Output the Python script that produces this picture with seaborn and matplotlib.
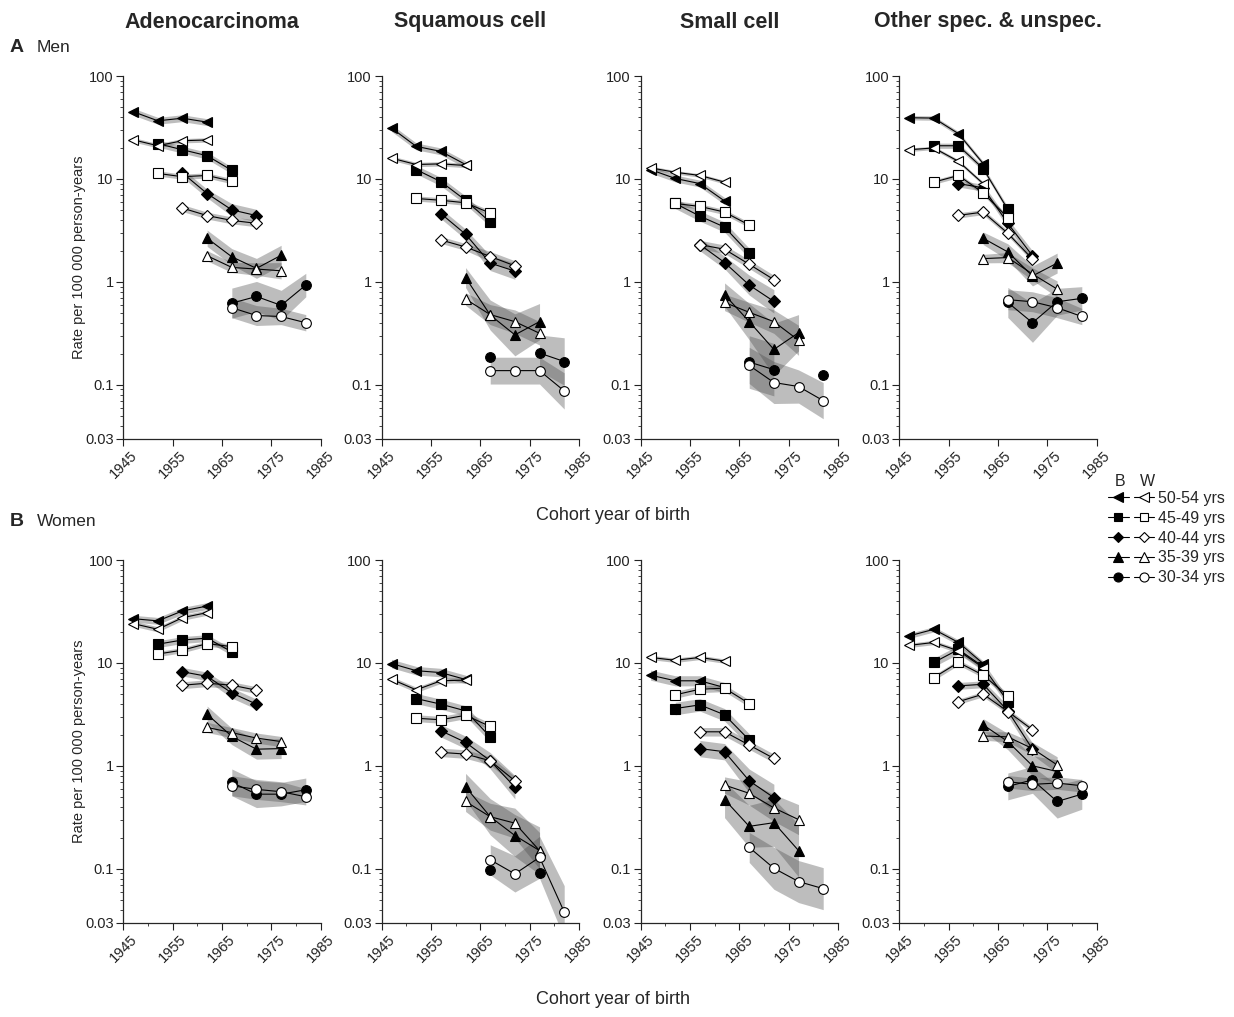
import numpy as np
import pandas as pd
import matplotlib
matplotlib.use("Agg")
import matplotlib.pyplot as plt
import seaborn as sns
from matplotlib.lines import Line2D
from matplotlib.legend_handler import HandlerTuple
from matplotlib.ticker import LogLocator, NullFormatter, FixedLocator

nan = np.nan

# cohort year of birth of the first point of each age group (5-year steps)
cohort_start = [1947, 1952, 1957, 1962, 1967]
age_groups = ["50-54 yrs", "45-49 yrs", "40-44 yrs", "35-39 yrs", "30-34 yrs"]
age_markers = ["<", "s", "D", "^", "o"]
histologies = ["Adenocarcinoma", "Squamous cell", "Small cell", "Other spec. & unspec."]

# rates per 100 000 person-years, rows = age groups (50-54 ... 30-34), B = black, W = white
men_adeno_b = [[45, 36.7, 38.9, 35.6], [22, 19.2, 16.8, 12.1], [11.4, 7.2, 5.0, 4.4], [2.65, 1.75, 1.35, 1.81], [0.62, 0.72, 0.59, 0.93]]
men_adeno_w = [[24, 21, 23.5, 23.9], [11.3, 10.5, 10.8, 9.5], [5.2, 4.4, 3.95, 3.7], [1.79, 1.38, 1.33, 1.28], [0.56, 0.47, 0.46, 0.40]]
men_squam_b = [[31.2, 20.7, 18.5, 13.8], [12.3, 9.4, 6.2, 3.8], [4.6, 2.9, 1.52, 1.27], [1.1, 0.475, 0.305, 0.41], [0.184, nan, 0.203, 0.168]]
men_squam_w = [[15.9, 13.8, 14, 13.5], [6.45, 6.2, 5.86, 4.65], [2.55, 2.18, 1.76, 1.43], [0.68, 0.48, 0.41, 0.316], [0.137, 0.137, 0.137, 0.087]]
men_small_b = [[12.3, 10.1, 9.0, 6.1], [5.77, 4.35, 3.4, 1.89], [2.3, 1.54, 0.93, 0.645], [0.75, 0.41, 0.22, 0.32], [0.166, 0.14, nan, 0.123]]
men_small_w = [[12.8, 11.6, 10.8, 9.3], [5.77, 5.4, 4.76, 3.56], [2.3, 2.07, 1.48, 1.05], [0.63, 0.505, 0.41, 0.27], [0.154, 0.105, 0.096, 0.07]]
men_other_b = [[39.3, 39, 27.5, 14.1], [21, 21, 12.6, 5.05], [9.0, 8.2, 3.7, 1.79], [2.65, 1.95, 1.14, 1.52], [0.63, 0.40, 0.64, 0.69]]
men_other_w = [[19.2, 20, 14.8, 9.0], [9.3, 10.8, 7.3, 4.2], [4.42, 4.76, 2.96, 1.66], [1.68, 1.72, 1.19, 0.85], [0.67, 0.64, 0.56, 0.46]]
women_adeno_b = [[26.9, 25.6, 32, 35.7], [15.2, 16.7, 17.4, 12.8], [8.2, 7.4, 5.1, 3.97], [3.17, 1.93, 1.45, 1.47], [0.69, 0.53, 0.53, 0.585]]
women_adeno_w = [[24.1, 21.2, 27.5, 30.8], [12.2, 13.3, 15.4, 14.4], [6.07, 6.35, 6.07, 5.43], [2.36, 2.1, 1.86, 1.72], [0.64, 0.59, 0.56, 0.50]]
women_squam_b = [[9.85, 8.4, 8.05, 6.9], [4.5, 3.97, 3.42, 1.91], [2.19, 1.69, 1.12, 0.62], [0.625, 0.32, 0.21, 0.15], [0.098, nan, 0.09, nan]]
women_squam_w = [[6.94, 5.47, 6.7, 6.8], [2.9, 2.8, 3.1, 2.41], [1.35, 1.3, 1.12, 0.715], [0.45, 0.32, 0.277, 0.15], [0.122, 0.089, 0.129, 0.038]]
women_small_b = [[7.6, 6.7, 6.7, 5.76], [3.6, 3.91, 3.13, 1.78], [1.47, 1.37, 0.715, 0.49], [0.47, 0.258, 0.28, 0.15], [nan, nan, nan, nan]]
women_small_w = [[11.3, 10.6, 11.3, 10.4], [4.89, 5.55, 5.68, 4.03], [2.14, 2.14, 1.59, 1.18], [0.65, 0.54, 0.39, 0.30], [0.161, 0.101, 0.075, 0.064]]
women_other_b = [[18.3, 21.2, 15.8, 9.85], [10.1, 13.5, 9.2, 4.2], [5.98, 6.2, 3.42, 1.45], [2.5, 1.72, 1.0, 0.88], [0.63, 0.73, 0.45, 0.53]]
women_other_w = [[14.8, 15.8, 13.1, 9.0], [7.2, 10.1, 7.6, 4.78], [4.2, 4.97, 3.37, 2.24], [1.95, 1.91, 1.47, 1.02], [0.70, 0.66, 0.68, 0.64]]

# 95% CI read as multiplicative half-widths (upper = rate*f, lower = rate/f)
men_adeno_ci_b = [[1.08, 1.08, 1.08, 1.08], [1.08, 1.08, 1.08, 1.08], [1.1, 1.1, 1.15, 1.15], [1.2, 1.2, 1.25, 1.25], [1.4, 1.4, 1.4, 1.3]]
men_adeno_ci_w = [[1.05, 1.05, 1.05, 1.05], [1.06, 1.06, 1.06, 1.06], [1.08, 1.08, 1.08, 1.08], [1.12, 1.12, 1.15, 1.2], [1.25, 1.25, 1.2, 1.2]]
men_squam_ci_b = [[1.08, 1.08, 1.08, 1.08], [1.1, 1.1, 1.1, 1.1], [1.12, 1.12, 1.18, 1.2], [1.25, 1.4, 1.6, 1.5], [1.4, 1.4, 1.5, 1.7]]
men_squam_ci_w = [[1.05, 1.05, 1.05, 1.05], [1.06, 1.06, 1.06, 1.06], [1.08, 1.08, 1.12, 1.12], [1.15, 1.25, 1.3, 1.3], [1.35, 1.35, 1.35, 1.5]]
men_small_ci_b = [[1.08, 1.08, 1.08, 1.08], [1.12, 1.12, 1.12, 1.12], [1.15, 1.15, 1.25, 1.3], [1.3, 1.5, 1.8, 1.5], [1.8, 1.8, 1.8, 1.8]]
men_small_ci_w = [[1.04, 1.04, 1.04, 1.04], [1.06, 1.06, 1.06, 1.06], [1.1, 1.1, 1.1, 1.1], [1.2, 1.25, 1.3, 1.4], [1.5, 1.6, 1.45, 1.5]]
men_other_ci_b = [[1.05, 1.05, 1.05, 1.05], [1.06, 1.06, 1.06, 1.06], [1.08, 1.08, 1.1, 1.12], [1.15, 1.2, 1.25, 1.25], [1.4, 1.55, 1.35, 1.3]]
men_other_ci_w = [[1.04, 1.04, 1.04, 1.04], [1.05, 1.05, 1.05, 1.05], [1.06, 1.06, 1.06, 1.06], [1.1, 1.12, 1.15, 1.2], [1.25, 1.25, 1.25, 1.2]]
women_adeno_ci_b = [[1.08, 1.08, 1.08, 1.08], [1.08, 1.08, 1.08, 1.08], [1.1, 1.1, 1.12, 1.12], [1.2, 1.2, 1.25, 1.25], [1.35, 1.35, 1.3, 1.3]]
women_adeno_ci_w = [[1.06, 1.06, 1.06, 1.06], [1.06, 1.06, 1.06, 1.06], [1.08, 1.08, 1.08, 1.08], [1.12, 1.12, 1.12, 1.12], [1.25, 1.25, 1.25, 1.2]]
women_squam_ci_b = [[1.1, 1.1, 1.1, 1.1], [1.12, 1.12, 1.12, 1.12], [1.15, 1.15, 1.2, 1.3], [1.35, 1.5, 1.6, 1.7], [1.5, 1.5, 1.5, 1.5]]
women_squam_ci_w = [[1.06, 1.06, 1.06, 1.06], [1.08, 1.08, 1.08, 1.08], [1.1, 1.1, 1.1, 1.1], [1.25, 1.35, 1.4, 1.5], [1.4, 1.5, 1.6, 1.8]]
women_small_ci_b = [[1.12, 1.12, 1.12, 1.12], [1.15, 1.15, 1.15, 1.15], [1.2, 1.2, 1.3, 1.35], [1.5, 1.6, 1.7, 1.8], [1.5, 1.5, 1.5, 1.5]]
women_small_ci_w = [[1.05, 1.05, 1.05, 1.05], [1.08, 1.08, 1.08, 1.08], [1.1, 1.1, 1.1, 1.1], [1.2, 1.3, 1.35, 1.4], [1.4, 1.6, 1.6, 1.6]]
women_other_ci_b = [[1.06, 1.06, 1.06, 1.06], [1.1, 1.1, 1.1, 1.1], [1.08, 1.08, 1.12, 1.15], [1.15, 1.2, 1.25, 1.3], [1.35, 1.35, 1.45, 1.4]]
women_other_ci_w = [[1.05, 1.05, 1.05, 1.05], [1.06, 1.06, 1.06, 1.06], [1.06, 1.06, 1.06, 1.06], [1.1, 1.12, 1.15, 1.2], [1.15, 1.15, 1.15, 1.15]]

panels = [
    ("Men", "Adenocarcinoma", men_adeno_b, men_adeno_w, men_adeno_ci_b, men_adeno_ci_w),
    ("Men", "Squamous cell", men_squam_b, men_squam_w, men_squam_ci_b, men_squam_ci_w),
    ("Men", "Small cell", men_small_b, men_small_w, men_small_ci_b, men_small_ci_w),
    ("Men", "Other spec. & unspec.", men_other_b, men_other_w, men_other_ci_b, men_other_ci_w),
    ("Women", "Adenocarcinoma", women_adeno_b, women_adeno_w, women_adeno_ci_b, women_adeno_ci_w),
    ("Women", "Squamous cell", women_squam_b, women_squam_w, women_squam_ci_b, women_squam_ci_w),
    ("Women", "Small cell", women_small_b, women_small_w, women_small_ci_b, women_small_ci_w),
    ("Women", "Other spec. & unspec.", women_other_b, women_other_w, women_other_ci_b, women_other_ci_w),
]

rows = []
for sex, hist, rb, rw, cb, cw in panels:
    for race, rates, cis in (("B", rb, cb), ("W", rw, cw)):
        for a, age in enumerate(age_groups):
            for k in range(4):
                r = rates[a][k]
                f = cis[a][k]
                rows.append(dict(sex=sex, hist=hist, race=race, age=age,
                                 year=cohort_start[a] + 5 * k, rate=r, lo=r / f, hi=r * f))
df = pd.DataFrame(rows)

sns.set_style("ticks")
plt.rcParams["font.family"] = ["Liberation Sans", "DejaVu Sans"]
plt.rcParams["axes.linewidth"] = 0.9

W, H = 1234, 1017
fig = plt.figure(figsize=(W / 100, H / 100), dpi=100)

ax_left = [123.3, 381.7, 640.7, 899.3]
ax_w = 197.3
row_top = [76, 560]
ax_h = 362.5

band_color = "#4a4a4a"
band_alpha = 0.36
marker_size = {"<": 7.8, "s": 6.5, "D": 6.0, "^": 7.8, "o": 7.0}


def draw_series(ax, sub, marker, filled, z):
    sub = sub.sort_values("year").reset_index(drop=True)
    ok = sub["rate"].notna()
    run_id = (~ok).cumsum()
    for _, seg in sub[ok].groupby(run_id[ok]):
        if len(seg) > 1:
            ax.fill_between(seg["year"], seg["lo"], seg["hi"], color=band_color,
                            alpha=band_alpha, lw=0, zorder=1)
        sns.lineplot(data=seg, x="year", y="rate", ax=ax, color="black", lw=0.8,
                     marker=marker, markersize=marker_size[marker],
                     markerfacecolor="black" if filled else "white",
                     markeredgecolor="black", markeredgewidth=0.8,
                     estimator=None, errorbar=None, legend=False, zorder=z)


for i, (sex, hist, *_rest) in enumerate(panels):
    r, c = divmod(i, 4)
    ax = fig.add_axes([ax_left[c] / W, 1 - (row_top[r] + ax_h) / H, ax_w / W, ax_h / H])
    pdat = df[(df["sex"] == sex) & (df["hist"] == hist)]
    for a, age in enumerate(age_groups):
        for race in ("B", "W"):
            sub = pdat[(pdat["age"] == age) & (pdat["race"] == race)]
            draw_series(ax, sub, age_markers[a], race == "B", 3 if race == "B" else 4)

    ax.set_yscale("log")
    ax.set_ylim(0.03, 100)
    ax.set_xlim(1945, 1985)
    ax.yaxis.set_major_locator(FixedLocator([0.03, 0.1, 1, 10, 100]))
    ax.set_yticklabels(["0.03", "0.1", "1", "10", "100"])
    ax.yaxis.set_minor_locator(LogLocator(base=10, subs=np.arange(2, 10)))
    ax.yaxis.set_minor_formatter(NullFormatter())
    ax.set_xticks([1945, 1955, 1965, 1975, 1985])
    ax.set_xticklabels(["1945", "1955", "1965", "1975", "1985"], rotation=45)
    if r == 1:
        ax.set_xticks([1950, 1960, 1970, 1980], minor=True)
    ax.tick_params(axis="both", which="major", length=5, width=0.8, labelsize=10.5,
                   colors="#222222", pad=2)
    ax.tick_params(axis="both", which="minor", length=2.5, width=0.6)
    sns.despine(ax=ax)
    ax.set_xlabel("")
    if c == 0:
        ax.set_ylabel("Rate per 100 000 person-years", fontsize=10.5, labelpad=-1)
    else:
        ax.set_ylabel("")
    if r == 0:
        fig.text((ax_left[c] + ax_w / 2 - 10) / W, 1 - 22 / H, hist, ha="center",
                 va="center", fontsize=15.5, fontweight="bold")

# row labels and shared x labels
fig.text(10 / W, 1 - 48 / H, "A", fontsize=14, fontweight="bold", va="center")
fig.text(37 / W, 1 - 48 / H, "Men", fontsize=12.5, va="center")
fig.text(10 / W, 1 - 522 / H, "B", fontsize=14, fontweight="bold", va="center")
fig.text(37 / W, 1 - 522 / H, "Women", fontsize=12.5, va="center")
fig.text(613 / W, 1 - 515 / H, "Cohort year of birth", fontsize=13, ha="center", va="center")
fig.text(613 / W, 1 - 1000 / H, "Cohort year of birth", fontsize=13, ha="center", va="center")

# legend: black (B) and white (W) marker pairs
fig.text(1120 / W, 1 - 481 / H, "B", fontsize=11.5, ha="center", va="center")
fig.text(1147 / W, 1 - 481 / H, "W", fontsize=11.5, ha="center", va="center")
handles = []
for m in age_markers:
    hb = Line2D([], [], color="black", lw=0.8, marker=m, markersize=marker_size[m] - 0.5,
                markerfacecolor="black", markeredgecolor="black", markeredgewidth=0.8)
    hw = Line2D([], [], color="black", lw=0.8, marker=m, markersize=marker_size[m] - 0.5,
                markerfacecolor="white", markeredgecolor="black", markeredgewidth=0.8)
    handles.append((hb, hw))
fig.legend(handles, age_groups, handler_map={tuple: HandlerTuple(ndivide=None, pad=0.3)},
           loc="upper left", bbox_to_anchor=(1108 / W, 1 - 491 / H), frameon=False,
           fontsize=11.5, handlelength=2.9, handletextpad=0.25, labelspacing=0.3,
           numpoints=1, borderaxespad=0, borderpad=0)

fig.savefig("out.png", dpi=100)
